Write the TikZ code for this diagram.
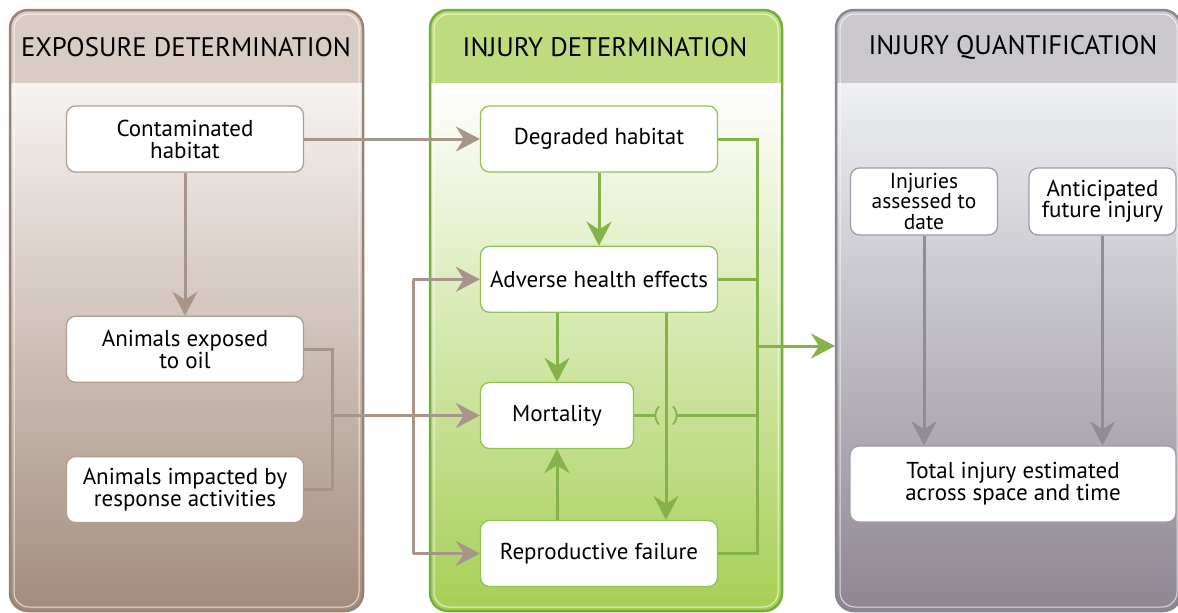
\documentclass[tikz,border=0pt]{standalone}
\usepackage{fontspec}
\setmainfont{PT Sans}
\usepackage{tikz}
\usetikzlibrary{arrows.meta, positioning, calc}

\definecolor{ExpHead}{HTML}{D8CCC4}
\definecolor{ExpTop}{HTML}{F6F3F1}
\definecolor{ExpMid}{HTML}{CDBEB3}
\definecolor{ExpBot}{HTML}{A48C7C}
\definecolor{ExpEdge}{HTML}{9A8172}
\definecolor{ExpLine}{HTML}{A8958A}
\definecolor{ExpBox}{HTML}{B29E91}
\definecolor{InjHead}{HTML}{BEDC7E}
\definecolor{InjMid}{HTML}{BEDB84}
\definecolor{InjBot}{HTML}{A6CF55}
\definecolor{InjEdge}{HTML}{74AE3A}
\definecolor{InjLine}{HTML}{85B24A}
\definecolor{InjBox}{HTML}{92C156}
\definecolor{QntHead}{HTML}{CAC7CD}
\definecolor{QntTop}{HTML}{EEF0F3}
\definecolor{QntMid}{HTML}{BDB9C1}
\definecolor{QntBot}{HTML}{8E8692}
\definecolor{QntEdge}{HTML}{8A8590}
\definecolor{QntLine}{HTML}{918A97}
\definecolor{QntBox}{HTML}{A09BA5}

% one stage column: x1, x2, header, body top, body middle, body bottom, edge
\newcommand{\stagepanel}[7]{%
  \begin{scope}
    \clip[rounded corners=18pt] (#1,10) rectangle (#2,611);
    \shade[top color=#4, middle color=#5, bottom color=#6] (#1,83) rectangle (#2,611);
    \fill[#3] (#1,10) rectangle (#2,83);
  \end{scope}
  \draw[white, opacity=0.7, line width=1pt, rounded corners=15pt] ($(#1,14)+(4,0)$) rectangle ($(#2,607)+(-4,0)$);
  \draw[#7, line width=2.5pt, rounded corners=18pt] (#1,10) rectangle (#2,611);
}

\begin{document}
\begin{tikzpicture}[
  x=1pt, y=-1pt,
  box/.style={
    draw, rounded corners=9pt, fill=white, line width=1.3pt,
    minimum width=237pt, minimum height=66pt,
    align=center, font=\fontsize{23}{22}\selectfont, inner sep=2pt
  },
  head/.style={font=\fontsize{26.8}{27}\selectfont},
  arrow/.style={-{Stealth[length=24pt, width=25pt, inset=8pt]}, line width=3pt},
  link/.style={line width=3pt},
]
  \useasboundingbox (0,0) rectangle (1178,613);

  % Stage columns
  \stagepanel{10}{363}{ExpHead}{ExpTop}{ExpMid}{ExpBot}{ExpEdge}
  \stagepanel{430}{782}{InjHead}{white}{InjMid}{InjBot}{InjEdge}
  \stagepanel{836}{1181}{QntHead}{QntTop}{QntMid}{QntBot}{QntEdge}

  \node[head] (exphead) at (186,47) {EXPOSURE DETERMINATION};
  \node[head] (injhead) at (605,47) {INJURY DETERMINATION};
  \node[head] (qnthead) at (1013,47) {INJURY QUANTIFICATION};

  % Exposure boxes
  \node[box, draw=ExpBox] (contam) at (185,139) {Contaminated\\habitat};
  \node[box, draw=ExpBox, below=143pt of contam] (exposed) {Animals exposed\\to oil};
  \node[box, draw=ExpBox, below=73pt of exposed] (impacted) {Animals impacted by\\response activities};

  % Injury boxes
  \node[box, draw=InjBox] (degr) at (599,139) {Degraded habitat};
  \node[box, draw=InjBox, below=73pt of degr] (adverse) {Adverse health effects};
  \node[box, draw=InjBox, minimum width=153pt] (mort) at (557,415.5) {Mortality};
  \node[box, draw=InjBox] (repro) at (599,553.5) {Reproductive failure};

  % Quantification boxes
  \node[box, draw=QntBox, minimum width=147pt, minimum height=67pt, font=\fontsize{21.5}{20.5}\selectfont, inner sep=1pt] (assessed) at (924,201.5) {Injuries\\assessed to\\date};
  \node[box, draw=QntBox, minimum width=147pt, minimum height=67pt, font=\fontsize{23}{21}\selectfont] (future) at (1102.5,201.5) {Anticipated\\future injury};
  \node[box, draw=QntBox, minimum width=326pt, minimum height=76pt] (total) at (1013,484) {Total injury estimated\\across space and time};

  % Exposure links
  \coordinate (join) at ($(exposed.east)+(28,0)$);
  \coordinate (split) at (413,0);
  \draw[arrow, ExpLine] (contam) -- (degr);
  \draw[arrow, ExpLine] (contam) -- (exposed);
  \draw[link, ExpLine] (exposed.east) -- (join) |- (impacted.east);
  \draw[arrow, ExpLine] (join |- mort) -- (mort);
  \draw[link, ExpLine] (split |- adverse) -- (split |- repro);
  \draw[arrow, ExpLine] (split |- adverse) -- (adverse);
  \draw[arrow, ExpLine] (split |- repro) -- (repro);

  % Injury links
  \coordinate (bypass) at (666,0);
  \coordinate (collect) at (757,0);
  \coordinate (qntin) at (835,346);
  \draw[arrow, InjLine] (degr) -- (adverse);
  \draw[arrow, InjLine] (adverse.south -| mort) -- (mort);
  \draw[arrow, InjLine] (repro.north -| mort) -- (mort);
  \draw[arrow, InjLine] (adverse.south -| bypass) -- (repro.north -| bypass);
  \draw[link, InjLine] (degr.east) -| (collect |- repro) -- (repro.east);
  \draw[link, InjLine] (adverse.east) -- (adverse.east -| collect);
  \draw[link, InjLine] (mort.east) -- ($(mort.east -| bypass)+(-10,0)$);
  \draw[link, InjLine] ($(mort.east -| bypass)+(10,0)$) -- (mort.east -| collect);
  \draw[InjLine, line width=1.8pt] ($(mort.east -| bypass)+(-7,-9)$) .. controls ($(mort.east -| bypass)+(-12,-3)$) and ($(mort.east -| bypass)+(-12,3)$) .. ($(mort.east -| bypass)+(-7,9)$);
  \draw[InjLine, line width=1.8pt] ($(mort.east -| bypass)+(7,-9)$) .. controls ($(mort.east -| bypass)+(12,-3)$) and ($(mort.east -| bypass)+(12,3)$) .. ($(mort.east -| bypass)+(7,9)$);
  \draw[arrow, InjLine] (collect |- qntin) -- (qntin);

  % Quantification links
  \draw[arrow, QntLine] (assessed) -- (assessed |- total.north);
  \draw[arrow, QntLine] (future) -- (future |- total.north);
\end{tikzpicture}
\end{document}
